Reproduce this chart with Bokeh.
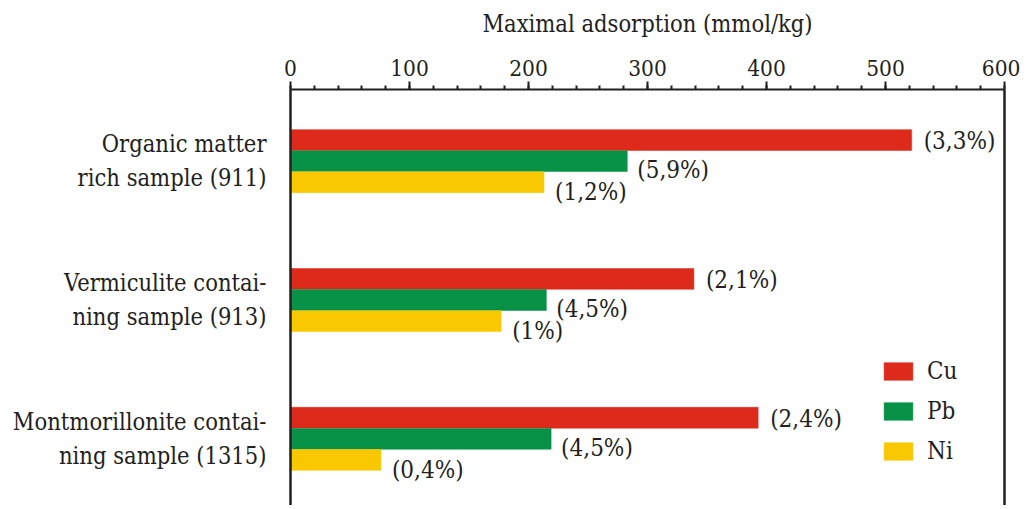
from bokeh.plotting import figure
from bokeh.models import Range1d, LinearAxis, FixedTicker, ColumnDataSource
from bokeh.core.properties import value
from bokeh.embed import file_html
from bokeh.resources import INLINE

samples = ["Organic matter\nrich sample (911)",
           "Vermiculite contai-\nning sample (913)",
           "Montmorillonite contai-\nning sample (1315)"]
metals = ["Cu", "Pb", "Ni"]
cu = [522, 339, 393]
pb = [283, 215, 219]
ni = [213, 177, 76]
cu_pct = ["(3,3%)", "(2,1%)", "(2,4%)"]
pb_pct = ["(5,9%)", "(4,5%)", "(4,5%)"]
ni_pct = ["(1,2%)", "(1%)", "(0,4%)"]
x_ticks = [0, 100, 200, 300, 400, 500, 600]
x_title = "Maximal adsorption (mmol/kg)"

colors = {"Cu": "#DD2A1B", "Pb": "#079247", "Ni": "#F9C800"}
FONT = "DejaVu Serif Condensed"
TXT = "#231F20"

p = figure(width=1020, height=505, x_range=Range1d(0, 600),
           y_range=Range1d(2.48, -0.516), x_axis_location="above",
           y_axis_location=None,
           output_backend="svg", toolbar_location=None,
           min_border_left=290, min_border_right=16,
           min_border_top=89, min_border_bottom=0)
p.outline_line_color = None
p.xgrid.visible = False
p.ygrid.visible = False
p.background_fill_color = "white"

idx = list(range(len(samples)))
bar_h = 0.15
offsets = {"Cu": -0.152, "Pb": 0.0, "Ni": 0.152}
yoff_text = {"Cu": 1, "Pb": 9, "Ni": 10}
xoff_text = {"Cu": 12, "Pb": 10, "Ni": 11}
series = {"Cu": (cu, cu_pct), "Pb": (pb, pb_pct), "Ni": (ni, ni_pct)}

for m in metals:
    vals, pcts = series[m]
    src = ColumnDataSource(dict(y=[i + offsets[m] for i in idx], right=vals, lab=pcts))
    p.hbar(y="y", right="right", left=0, height=bar_h, source=src,
           fill_color=colors[m], line_color=colors[m], line_width=0.5,
           legend_label=m)
    p.text(x="right", y="y", text="lab", source=src, x_offset=xoff_text[m],
           y_offset=yoff_text[m], text_baseline="middle", text_align="left",
           text_font=value(FONT), text_font_size="24px", text_color=TXT)

# top axis
xa = p.xaxis[0]
xa.ticker = FixedTicker(ticks=x_ticks, minor_ticks=list(range(0, 601, 20)))
xa.axis_label = x_title
xa.axis_label_text_font = FONT
xa.axis_label_text_font_style = "normal"
xa.axis_label_text_font_size = "23.5px"
xa.axis_label_text_color = TXT
xa.axis_label_standoff = 19
xa.major_label_text_font = FONT
xa.major_label_text_font_size = "22.5px"
xa.major_label_text_color = TXT
xa.major_label_standoff = 6
xa.axis_line_width = 2
xa.axis_line_color = TXT
xa.major_tick_out = 8
xa.major_tick_in = 0
xa.minor_tick_out = 4
xa.minor_tick_in = 0
xa.major_tick_line_width = 2
xa.minor_tick_line_width = 2
xa.major_tick_line_color = TXT
xa.minor_tick_line_color = TXT

# left axis with category labels
ya = LinearAxis(ticker=FixedTicker(ticks=idx),
                major_label_overrides={i: s for i, s in zip(idx, samples)})
ya.major_tick_line_color = None
ya.minor_tick_line_color = None
ya.major_label_standoff = 18
ya.major_label_text_font = FONT
ya.major_label_text_font_size = "23.5px"
ya.major_label_text_color = TXT
ya.major_label_text_align = "right"
ya.axis_line_width = 2.5
ya.axis_line_color = TXT
p.add_layout(ya, "left")

# right frame line
ra = LinearAxis(ticker=FixedTicker(ticks=[]))
ra.major_label_text_font_size = "0px"
ra.major_tick_line_color = None
ra.minor_tick_line_color = None
ra.axis_line_width = 2.5
ra.axis_line_color = TXT
p.add_layout(ra, "right")

lg = p.legend[0]
lg.location = (590, 40)
lg.border_line_color = None
lg.background_fill_alpha = 0
lg.padding = 0
lg.margin = 0
lg.glyph_width = 36
lg.glyph_height = 22
lg.spacing = 12
lg.label_standoff = 11
lg.label_text_font = FONT
lg.label_text_font_size = "24px"
lg.label_text_color = TXT

open("out.html", "w").write(file_html(p, INLINE))
